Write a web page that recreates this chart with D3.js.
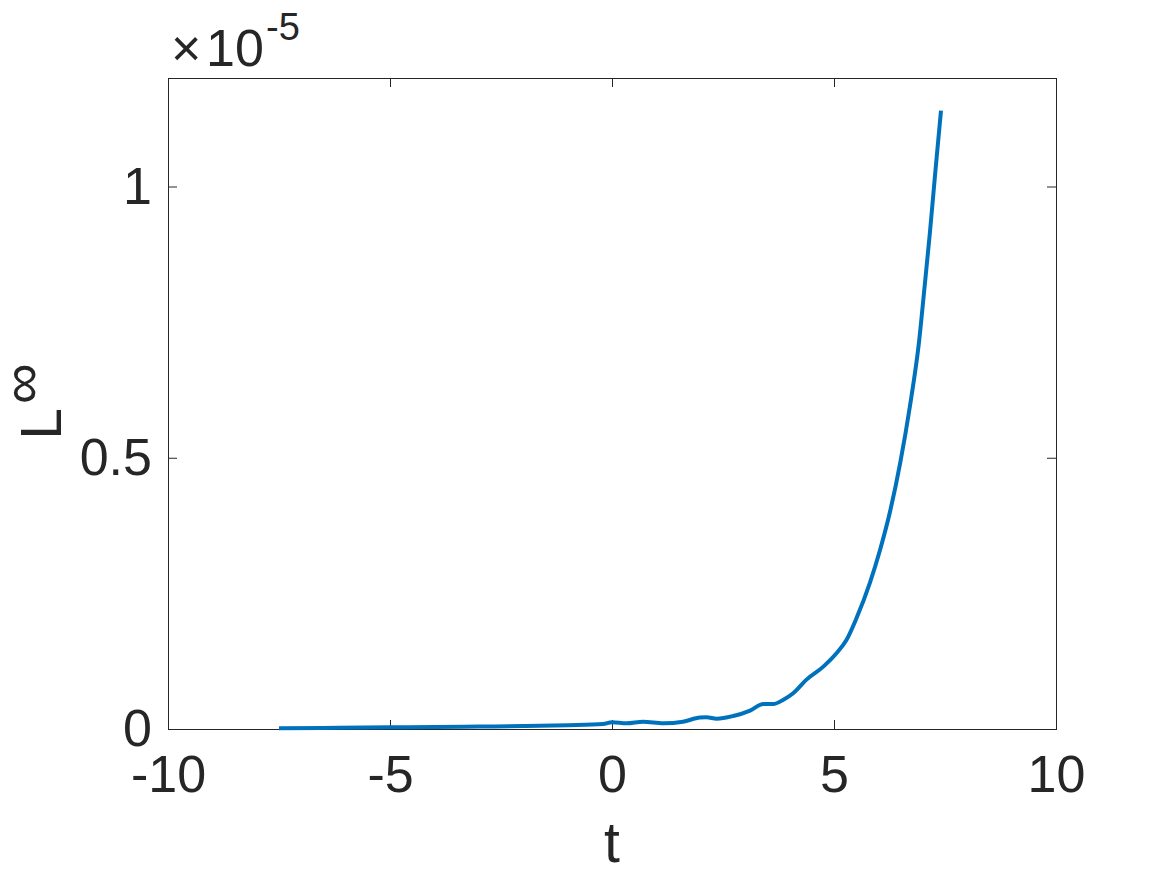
<!DOCTYPE html>
<html>
<head>
<meta charset="utf-8">
<script src="https://cdn.jsdelivr.net/npm/d3@7"></script>
<style>
  body { margin: 0; background: #fff; }
  svg text { font-family: "Liberation Sans", Arial, Helvetica, sans-serif; fill: #262626; }
</style>
</head>
<body>
<div id="chart"></div>
<script>
// time samples and L-infinity error (in units of 1e-5)
const tValues = [
  -7.5, -6.5, -5, -4, -3, -2, -1, -0.2, 0, 0.33, 0.7, 1.16, 1.6, 1.98, 2.13, 2.36,
  2.73, 3.11, 3.41, 3.63, 3.86, 4.08, 4.38, 4.76, 5.06, 5.28, 5.51, 5.81, 6.04,
  6.26, 6.49, 6.71, 6.91, 7.04, 7.16, 7.28, 7.41
];
const errValues = [
  0.0013, 0.002, 0.003, 0.0035, 0.0045, 0.0055, 0.007, 0.009, 0.0125, 0.0105, 0.0135,
  0.0105, 0.0135, 0.021, 0.0216, 0.019, 0.024, 0.034, 0.046, 0.046, 0.054, 0.066,
  0.091, 0.115, 0.14, 0.164, 0.205, 0.27, 0.331, 0.4, 0.49, 0.595, 0.71, 0.815,
  0.915, 1.025, 1.14
];
const xTicks = [-10, -5, 0, 5, 10];
const yTicks = [0, 0.5, 1];
const xDomain = [-10, 10];
const yDomain = [0, 1.2];

class LineChart {
  constructor(_config) {
    this.config = {
      parentElement: _config.parentElement,
      containerWidth: 1167,
      containerHeight: 875,
      tickLength: 9,
      fontSize: 52,
      labelSize: 57,
      margin: { top: 78, right: 111, bottom: 146, left: 168 }
    };
    this.data = tValues.map((t, i) => ({ t: t, v: errValues[i] }));
    this.initVis();
  }

  initVis() {
    let vis = this;
    const c = vis.config;
    c.width = c.containerWidth - c.margin.left - c.margin.right;
    c.height = c.containerHeight - c.margin.top - c.margin.bottom;

    vis.svg = d3.select(c.parentElement).append('svg')
      .attr('width', c.containerWidth)
      .attr('height', c.containerHeight);

    vis.chart = vis.svg.append('g')
      .attr('transform', `translate(${c.margin.left},${c.margin.top})`);

    vis.xScale = d3.scaleLinear().domain(xDomain).range([0, c.width]);
    vis.yScale = d3.scaleLinear().domain(yDomain).range([c.height, 0]);

    // plain hyphen for negatives, like the original figure
    const fmt = d => String(d);

    // axes with inward ticks on all four sides (box on)
    vis.xAxisB = d3.axisBottom(vis.xScale).tickValues(xTicks).tickFormat(fmt)
      .tickSizeInner(-c.tickLength).tickSizeOuter(0).tickPadding(26);
    vis.xAxisT = d3.axisTop(vis.xScale).tickValues(xTicks).tickFormat('')
      .tickSizeInner(-c.tickLength).tickSizeOuter(0);
    vis.yAxisL = d3.axisLeft(vis.yScale).tickValues(yTicks).tickFormat(fmt)
      .tickSizeInner(-c.tickLength).tickSizeOuter(0).tickPadding(16);
    vis.yAxisR = d3.axisRight(vis.yScale).tickValues(yTicks).tickFormat('')
      .tickSizeInner(-c.tickLength).tickSizeOuter(0);

    vis.updateVis();
  }

  updateVis() {
    let vis = this;
    vis.line = d3.line()
      .x(d => vis.xScale(d.t))
      .y(d => vis.yScale(d.v))
      .curve(d3.curveMonotoneX);
    vis.renderVis();
  }

  renderVis() {
    let vis = this;
    const c = vis.config;

    const styleAxis = g => {
      g.select('.domain').remove();
      g.selectAll('.tick line').attr('stroke', '#262626').attr('stroke-width', 1);
      g.selectAll('.tick text').attr('font-size', c.fontSize).attr('fill', '#262626');
    };

    vis.chart.append('g').attr('transform', `translate(0,${c.height})`).call(vis.xAxisB).call(styleAxis);
    vis.chart.append('g').call(vis.xAxisT).call(styleAxis);
    vis.chart.append('g').call(vis.yAxisL).call(styleAxis);
    vis.chart.append('g').attr('transform', `translate(${c.width},0)`).call(vis.yAxisR).call(styleAxis);

    // box
    vis.chart.append('rect')
      .attr('x', 0.5).attr('y', 0.5)
      .attr('width', c.width).attr('height', c.height)
      .attr('fill', 'none')
      .attr('stroke', '#262626')
      .attr('stroke-width', 1);

    vis.chart.append('path')
      .datum(vis.data)
      .attr('fill', 'none')
      .attr('stroke', '#0072BD')
      .attr('stroke-width', 4)
      .attr('stroke-linejoin', 'round')
      .attr('d', vis.line);

    // exponent label
    const expo = vis.svg.append('text').attr('font-size', c.fontSize);
    expo.append('tspan').attr('x', 171).attr('y', 66).text('\u00d7');
    expo.append('tspan').attr('x', 206).attr('y', 66).text('10');
    expo.append('tspan').attr('x', 266).attr('y', 40).attr('font-size', 38).text('-5');

    // x label
    vis.svg.append('text')
      .attr('x', c.margin.left + c.width / 2)
      .attr('y', 862)
      .attr('text-anchor', 'middle')
      .attr('font-size', c.labelSize)
      .text('t');

    // y label L^inf
    const yl = vis.svg.append('text')
      .attr('transform', `translate(61,${c.margin.top + c.height / 2 - 2}) rotate(-90)`)
      .attr('text-anchor', 'middle')
      .attr('font-size', c.labelSize);
    yl.append('tspan').text('L');
    yl.append('tspan').attr('dx', 4).attr('dy', -20).text('\u221e');
  }
}

new LineChart({ parentElement: '#chart' });
</script>
</body>
</html>
